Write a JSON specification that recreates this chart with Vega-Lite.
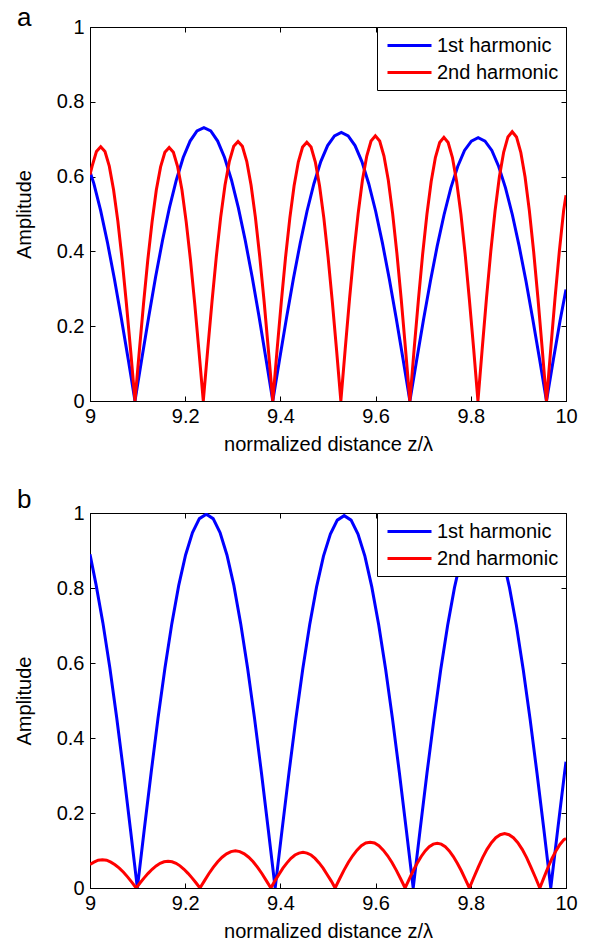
{
  "$schema": "https://vega.github.io/schema/vega-lite/v6.json",
  "padding": {"left": 13, "top": 4, "right": 5, "bottom": 0},
  "background": "white",
  "config": {
    "font": "Liberation Sans",
    "view": {"stroke": "black", "strokeWidth": 1},
    "axis": {
      "grid": false, "domainColor": "black", "domainWidth": 1, "tickColor": "black", "tickWidth": 1,
      "tickSize": -5, "labelColor": "black", "labelFont": "Liberation Sans", "labelFontSize": 20,
      "titleColor": "black", "titleFont": "Liberation Sans", "titleFontSize": 20, "titleFontWeight": "normal",
      "labelFlush": false, "labelOverlap": false
    },
    "legend": {
      "title": null, "orient": "none", "legendX": 287, "legendY": 0, "direction": "vertical",
      "symbolType": "M-2.2,0H2.2", "symbolSize": 400, "symbolStrokeWidth": 3,
      "labelFont": "Liberation Sans", "labelFontSize": 20, "labelColor": "black",
      "padding": 7, "strokeColor": "black", "fillColor": "white", "rowPadding": 5, "labelOffset": 16, "symbolOffset": 14
    },
    "title": {"font": "Liberation Sans", "fontSize": 26, "fontWeight": "normal", "color": "black", "anchor": "start", "frame": "group", "baseline": "alphabetic"}
  },
  "datasets": {
    "a1": [{"z":9,"a":0.613},{"z":9.008,"a":0.582},{"z":9.0224,"a":0.509},{"z":9.0368,"a":0.423},{"z":9.0512,"a":0.327},{"z":9.0657,"a":0.222},{"z":9.0801,"a":0.113},{"z":9.0945,"a":0},
      {"z":9.109,"a":0.114},{"z":9.1235,"a":0.226},{"z":9.1379,"a":0.332},{"z":9.1524,"a":0.430},{"z":9.1669,"a":0.517},{"z":9.1814,"a":0.591},{"z":9.1958,"a":0.651},{"z":9.2103,"a":0.695},{"z":9.2248,"a":0.722},{"z":9.2393,"a":0.731},{"z":9.2537,"a":0.722},{"z":9.2682,"a":0.695},{"z":9.2827,"a":0.651},{"z":9.2972,"a":0.591},{"z":9.3116,"a":0.517},{"z":9.3261,"a":0.430},{"z":9.3406,"a":0.332},{"z":9.3551,"a":0.226},{"z":9.3695,"a":0.114},{"z":9.384,"a":0},
      {"z":9.3984,"a":0.112},{"z":9.4128,"a":0.222},{"z":9.4272,"a":0.326},{"z":9.4416,"a":0.422},{"z":9.456,"a":0.508},{"z":9.4704,"a":0.581},{"z":9.4848,"a":0.640},{"z":9.4992,"a":0.683},{"z":9.5136,"a":0.709},{"z":9.528,"a":0.718},{"z":9.5424,"a":0.709},{"z":9.5568,"a":0.683},{"z":9.5712,"a":0.640},{"z":9.5856,"a":0.581},{"z":9.6,"a":0.508},{"z":9.6144,"a":0.422},{"z":9.6288,"a":0.326},{"z":9.6432,"a":0.222},{"z":9.6576,"a":0.112},{"z":9.672,"a":0},
      {"z":9.6864,"a":0.110},{"z":9.7007,"a":0.218},{"z":9.7151,"a":0.320},{"z":9.7294,"a":0.414},{"z":9.7438,"a":0.498},{"z":9.7581,"a":0.570},{"z":9.7725,"a":0.627},{"z":9.7868,"a":0.670},{"z":9.8012,"a":0.695},{"z":9.8155,"a":0.704},{"z":9.8299,"a":0.695},{"z":9.8442,"a":0.670},{"z":9.8586,"a":0.627},{"z":9.8729,"a":0.570},{"z":9.8873,"a":0.498},{"z":9.9016,"a":0.414},{"z":9.916,"a":0.320},{"z":9.9303,"a":0.218},{"z":9.9447,"a":0.110},{"z":9.959,"a":0},
      {"z":9.9734,"a":0.110},{"z":9.9877,"a":0.216},{"z":10,"a":0.298}],
    "a2": [{"z":9,"a":0.605},{"z":9.0045,"a":0.628},{"z":9.0135,"a":0.667},{"z":9.0225,"a":0.680},{"z":9.0315,"a":0.667},{"z":9.0405,"a":0.628},{"z":9.0495,"a":0.565},{"z":9.0585,"a":0.481},{"z":9.0675,"a":0.378},{"z":9.0765,"a":0.260},{"z":9.0855,"a":0.133},{"z":9.0945,"a":0},
      {"z":9.1035,"a":0.132},{"z":9.1124,"a":0.259},{"z":9.1214,"a":0.377},{"z":9.1304,"a":0.479},{"z":9.1393,"a":0.564},{"z":9.1483,"a":0.626},{"z":9.1573,"a":0.665},{"z":9.1663,"a":0.678},{"z":9.1752,"a":0.665},{"z":9.1842,"a":0.626},{"z":9.1932,"a":0.564},{"z":9.2021,"a":0.479},{"z":9.2111,"a":0.377},{"z":9.2201,"a":0.259},{"z":9.229,"a":0.132},{"z":9.238,"a":0},
      {"z":9.2471,"a":0.135},{"z":9.2563,"a":0.266},{"z":9.2654,"a":0.386},{"z":9.2745,"a":0.491},{"z":9.2836,"a":0.577},{"z":9.2928,"a":0.641},{"z":9.3019,"a":0.681},{"z":9.311,"a":0.694},{"z":9.3201,"a":0.681},{"z":9.3293,"a":0.641},{"z":9.3384,"a":0.577},{"z":9.3475,"a":0.491},{"z":9.3566,"a":0.386},{"z":9.3658,"a":0.266},{"z":9.3749,"a":0.135},{"z":9.384,"a":0},
      {"z":9.3929,"a":0.135},{"z":9.4019,"a":0.265},{"z":9.4108,"a":0.384},{"z":9.4198,"a":0.489},{"z":9.4287,"a":0.575},{"z":9.4376,"a":0.639},{"z":9.4466,"a":0.679},{"z":9.4555,"a":0.692},{"z":9.4644,"a":0.679},{"z":9.4734,"a":0.639},{"z":9.4823,"a":0.575},{"z":9.4913,"a":0.489},{"z":9.5002,"a":0.384},{"z":9.5091,"a":0.265},{"z":9.5181,"a":0.135},{"z":9.527,"a":0},
      {"z":9.5361,"a":0.138},{"z":9.5451,"a":0.271},{"z":9.5542,"a":0.394},{"z":9.5633,"a":0.501},{"z":9.5723,"a":0.590},{"z":9.5814,"a":0.655},{"z":9.5904,"a":0.695},{"z":9.5995,"a":0.709},{"z":9.6086,"a":0.695},{"z":9.6176,"a":0.655},{"z":9.6267,"a":0.590},{"z":9.6358,"a":0.501},{"z":9.6448,"a":0.394},{"z":9.6539,"a":0.271},{"z":9.6629,"a":0.138},{"z":9.672,"a":0},
      {"z":9.6809,"a":0.138},{"z":9.6899,"a":0.270},{"z":9.6988,"a":0.392},{"z":9.7078,"a":0.499},{"z":9.7167,"a":0.586},{"z":9.7256,"a":0.651},{"z":9.7346,"a":0.691},{"z":9.7435,"a":0.705},{"z":9.7524,"a":0.691},{"z":9.7614,"a":0.651},{"z":9.7703,"a":0.586},{"z":9.7793,"a":0.499},{"z":9.7882,"a":0.392},{"z":9.7971,"a":0.270},{"z":9.8061,"a":0.138},{"z":9.815,"a":0},
      {"z":9.824,"a":0.140},{"z":9.833,"a":0.276},{"z":9.842,"a":0.400},{"z":9.851,"a":0.509},{"z":9.86,"a":0.599},{"z":9.869,"a":0.665},{"z":9.878,"a":0.706},{"z":9.887,"a":0.720},{"z":9.896,"a":0.706},{"z":9.905,"a":0.665},{"z":9.914,"a":0.599},{"z":9.923,"a":0.509},{"z":9.932,"a":0.400},{"z":9.941,"a":0.276},{"z":9.95,"a":0.140},{"z":9.959,"a":0},
      {"z":9.968,"a":0.140},{"z":9.977,"a":0.276},{"z":9.986,"a":0.400},{"z":9.995,"a":0.509},{"z":10,"a":0.55}],
    "b1": [{"z":9,"a":0.89},{"z":9.0127,"a":0.809},{"z":9.0271,"a":0.707},{"z":9.0416,"a":0.588},{"z":9.0561,"a":0.454},{"z":9.0706,"a":0.309},{"z":9.085,"a":0.156},{"z":9.0995,"a":0},
      {"z":9.114,"a":0.156},{"z":9.1285,"a":0.308},{"z":9.1429,"a":0.453},{"z":9.1574,"a":0.586},{"z":9.1719,"a":0.705},{"z":9.1864,"a":0.807},{"z":9.2008,"a":0.888},{"z":9.2153,"a":0.948},{"z":9.2298,"a":0.985},{"z":9.2443,"a":0.997},{"z":9.2587,"a":0.985},{"z":9.2732,"a":0.948},{"z":9.2877,"a":0.888},{"z":9.3022,"a":0.807},{"z":9.3166,"a":0.705},{"z":9.3311,"a":0.586},{"z":9.3456,"a":0.453},{"z":9.3601,"a":0.308},{"z":9.3745,"a":0.156},{"z":9.389,"a":0},
      {"z":9.4035,"a":0.155},{"z":9.418,"a":0.307},{"z":9.4325,"a":0.451},{"z":9.447,"a":0.584},{"z":9.4615,"a":0.702},{"z":9.476,"a":0.803},{"z":9.4905,"a":0.885},{"z":9.505,"a":0.944},{"z":9.5195,"a":0.981},{"z":9.534,"a":0.993},{"z":9.5485,"a":0.981},{"z":9.563,"a":0.944},{"z":9.5775,"a":0.885},{"z":9.592,"a":0.803},{"z":9.6065,"a":0.702},{"z":9.621,"a":0.584},{"z":9.6355,"a":0.451},{"z":9.65,"a":0.307},{"z":9.6645,"a":0.155},{"z":9.679,"a":0},
      {"z":9.6935,"a":0.155},{"z":9.7079,"a":0.306},{"z":9.7224,"a":0.449},{"z":9.7368,"a":0.582},{"z":9.7513,"a":0.700},{"z":9.7657,"a":0.801},{"z":9.7802,"a":0.882},{"z":9.7946,"a":0.942},{"z":9.8091,"a":0.978},{"z":9.8235,"a":0.990},{"z":9.838,"a":0.978},{"z":9.8524,"a":0.942},{"z":9.8669,"a":0.882},{"z":9.8813,"a":0.801},{"z":9.8958,"a":0.700},{"z":9.9102,"a":0.582},{"z":9.9247,"a":0.449},{"z":9.9391,"a":0.306},{"z":9.9536,"a":0.155},{"z":9.968,"a":0},
      {"z":9.9825,"a":0.155},{"z":9.9969,"a":0.306},{"z":10,"a":0.337}],
    "b2": [{"z":9,"a":0.063},{"z":9.0083,"a":0.069},{"z":9.0171,"a":0.074},{"z":9.026,"a":0.075},{"z":9.0349,"a":0.074},{"z":9.0438,"a":0.069},{"z":9.0526,"a":0.062},{"z":9.0615,"a":0.053},{"z":9.0704,"a":0.042},{"z":9.0793,"a":0.029},{"z":9.0881,"a":0.015},{"z":9.097,"a":0},
      {"z":9.1054,"a":0.014},{"z":9.1138,"a":0.027},{"z":9.1221,"a":0.039},{"z":9.1305,"a":0.050},{"z":9.1389,"a":0.059},{"z":9.1473,"a":0.066},{"z":9.1556,"a":0.070},{"z":9.164,"a":0.071},{"z":9.1724,"a":0.070},{"z":9.1808,"a":0.066},{"z":9.1891,"a":0.059},{"z":9.1975,"a":0.050},{"z":9.2059,"a":0.039},{"z":9.2143,"a":0.027},{"z":9.2226,"a":0.014},{"z":9.231,"a":0},
      {"z":9.2403,"a":0.019},{"z":9.2496,"a":0.038},{"z":9.2589,"a":0.055},{"z":9.2683,"a":0.070},{"z":9.2776,"a":0.082},{"z":9.2869,"a":0.091},{"z":9.2962,"a":0.097},{"z":9.3055,"a":0.099},{"z":9.3148,"a":0.097},{"z":9.3241,"a":0.091},{"z":9.3334,"a":0.082},{"z":9.3428,"a":0.070},{"z":9.3521,"a":0.055},{"z":9.3614,"a":0.038},{"z":9.3707,"a":0.019},{"z":9.38,"a":0},
      {"z":9.3884,"a":0.019},{"z":9.3969,"a":0.036},{"z":9.4053,"a":0.053},{"z":9.4138,"a":0.067},{"z":9.4222,"a":0.079},{"z":9.4306,"a":0.088},{"z":9.4391,"a":0.093},{"z":9.4475,"a":0.095},{"z":9.4559,"a":0.093},{"z":9.4644,"a":0.088},{"z":9.4728,"a":0.079},{"z":9.4813,"a":0.067},{"z":9.4897,"a":0.053},{"z":9.4981,"a":0.036},{"z":9.5066,"a":0.019},{"z":9.515,"a":0},
      {"z":9.5242,"a":0.024},{"z":9.5334,"a":0.047},{"z":9.5426,"a":0.068},{"z":9.5518,"a":0.086},{"z":9.5609,"a":0.101},{"z":9.5701,"a":0.113},{"z":9.5793,"a":0.120},{"z":9.5885,"a":0.122},{"z":9.5977,"a":0.120},{"z":9.6069,"a":0.113},{"z":9.6161,"a":0.101},{"z":9.6253,"a":0.086},{"z":9.6344,"a":0.068},{"z":9.6436,"a":0.047},{"z":9.6528,"a":0.024},{"z":9.662,"a":0},
      {"z":9.6704,"a":0.023},{"z":9.6789,"a":0.046},{"z":9.6873,"a":0.066},{"z":9.6958,"a":0.084},{"z":9.7042,"a":0.099},{"z":9.7126,"a":0.110},{"z":9.7211,"a":0.117},{"z":9.7295,"a":0.119},{"z":9.7379,"a":0.117},{"z":9.7464,"a":0.110},{"z":9.7548,"a":0.099},{"z":9.7633,"a":0.084},{"z":9.7717,"a":0.066},{"z":9.7801,"a":0.046},{"z":9.7886,"a":0.023},{"z":9.797,"a":0},
      {"z":9.8063,"a":0.028},{"z":9.8155,"a":0.055},{"z":9.8248,"a":0.081},{"z":9.834,"a":0.103},{"z":9.8433,"a":0.121},{"z":9.8525,"a":0.134},{"z":9.8618,"a":0.142},{"z":9.871,"a":0.145},{"z":9.8803,"a":0.142},{"z":9.8895,"a":0.134},{"z":9.8988,"a":0.121},{"z":9.908,"a":0.103},{"z":9.9173,"a":0.081},{"z":9.9265,"a":0.055},{"z":9.9358,"a":0.028},{"z":9.945,"a":0},
      {"z":9.9534,"a":0.027},{"z":9.9619,"a":0.054},{"z":9.9703,"a":0.078},{"z":9.9788,"a":0.099},{"z":9.9872,"a":0.116},{"z":9.9956,"a":0.129},{"z":10,"a":0.132}]
  },
  "vconcat": [
    {
      "title": {"text": "a", "dx": -73, "dy": 14, "offset": 0},
      "width": 476, "height": 374,
      "layer": [
        {"data": {"name": "a1"}, "mark": {"type": "line", "strokeWidth": 3, "clip": true},
         "encoding": {
           "x": {"field": "z", "type": "quantitative", "scale": {"domain": [9, 10], "nice": false, "zero": false},
                 "axis": {"orient": "bottom", "values": [9, 9.2, 9.4, 9.6, 9.8, 10], "format": "~g", "title": "normalized distance z/λ", "labelPadding": 10, "titlePadding": 8}},
           "y": {"field": "a", "type": "quantitative", "scale": {"domain": [0, 1], "nice": false},
                 "axis": {"orient": "left", "values": [0, 0.2, 0.4, 0.6, 0.8, 1], "format": "~g", "title": "Amplitude", "labelPadding": 11, "titlePadding": 22}},
           "color": {"datum": "1st harmonic", "type": "nominal", "scale": {"domain": ["1st harmonic", "2nd harmonic"], "range": ["#0000ff", "#ff0000"]}}
         }},
        {"data": {"name": "a2"}, "mark": {"type": "line", "strokeWidth": 3, "clip": true},
         "encoding": {
           "x": {"field": "z", "type": "quantitative", "scale": {"domain": [9, 10], "nice": false, "zero": false}, "axis": null},
           "y": {"field": "a", "type": "quantitative", "scale": {"domain": [0, 1], "nice": false}, "axis": null},
           "color": {"datum": "2nd harmonic", "type": "nominal", "scale": {"domain": ["1st harmonic", "2nd harmonic"], "range": ["#0000ff", "#ff0000"]}}
         }},
        {"data": {"name": "a1"}, "mark": {"type": "line", "strokeOpacity": 0},
         "encoding": {
           "x": {"field": "z", "type": "quantitative", "scale": {"domain": [9, 10], "nice": false, "zero": false},
                 "axis": {"orient": "top", "values": [9, 9.2, 9.4, 9.6, 9.8, 10], "labels": false, "domain": false, "title": null}},
           "y": {"field": "a", "type": "quantitative", "scale": {"domain": [0, 1], "nice": false},
                 "axis": {"orient": "right", "values": [0, 0.2, 0.4, 0.6, 0.8, 1], "labels": false, "domain": false, "title": null}}
         }}
      ],
      "resolve": {"axis": {"x": "independent", "y": "independent"}}
    },
    {
      "title": {"text": "b", "dx": -73, "dy": 10, "offset": 0},
      "width": 476, "height": 375,
      "layer": [
        {"data": {"name": "b1"}, "mark": {"type": "line", "strokeWidth": 3, "clip": true},
         "encoding": {
           "x": {"field": "z", "type": "quantitative", "scale": {"domain": [9, 10], "nice": false, "zero": false},
                 "axis": {"orient": "bottom", "values": [9, 9.2, 9.4, 9.6, 9.8, 10], "format": "~g", "title": "normalized distance z/λ", "labelPadding": 10, "titlePadding": 8}},
           "y": {"field": "a", "type": "quantitative", "scale": {"domain": [0, 1], "nice": false},
                 "axis": {"orient": "left", "values": [0, 0.2, 0.4, 0.6, 0.8, 1], "format": "~g", "title": "Amplitude", "labelPadding": 11, "titlePadding": 22}},
           "color": {"datum": "1st harmonic", "type": "nominal", "scale": {"domain": ["1st harmonic", "2nd harmonic"], "range": ["#0000ff", "#ff0000"]}}
         }},
        {"data": {"name": "b2"}, "mark": {"type": "line", "strokeWidth": 3, "clip": true},
         "encoding": {
           "x": {"field": "z", "type": "quantitative", "scale": {"domain": [9, 10], "nice": false, "zero": false}, "axis": null},
           "y": {"field": "a", "type": "quantitative", "scale": {"domain": [0, 1], "nice": false}, "axis": null},
           "color": {"datum": "2nd harmonic", "type": "nominal", "scale": {"domain": ["1st harmonic", "2nd harmonic"], "range": ["#0000ff", "#ff0000"]}}
         }},
        {"data": {"name": "b1"}, "mark": {"type": "line", "strokeOpacity": 0},
         "encoding": {
           "x": {"field": "z", "type": "quantitative", "scale": {"domain": [9, 10], "nice": false, "zero": false},
                 "axis": {"orient": "top", "values": [9, 9.2, 9.4, 9.6, 9.8, 10], "labels": false, "domain": false, "title": null}},
           "y": {"field": "a", "type": "quantitative", "scale": {"domain": [0, 1], "nice": false},
                 "axis": {"orient": "right", "values": [0, 0.2, 0.4, 0.6, 0.8, 1], "labels": false, "domain": false, "title": null}}
         }}
      ],
      "resolve": {"axis": {"x": "independent", "y": "independent"}}
    }
  ],
  "bounds": "flush",
  "spacing": 112,
  "resolve": {"legend": {"color": "independent"}}
}
